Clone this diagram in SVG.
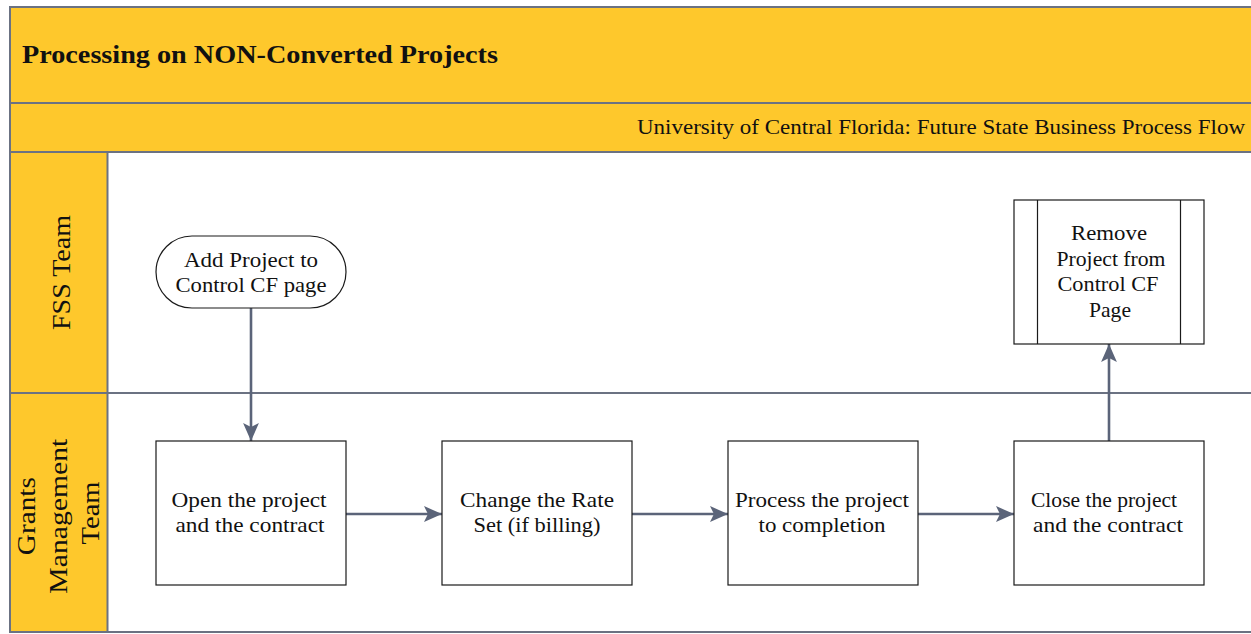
<svg xmlns="http://www.w3.org/2000/svg" width="1251" height="634" viewBox="0 0 1251 634">
  <style>
    .band { fill: #FEC82C; stroke: #6B7282; stroke-width: 2; }
    .lane { fill: #FFFFFF; stroke: #6B7282; stroke-width: 2; }
    .box { fill: #FFFFFF; stroke: #1A1A1A; stroke-width: 1.2; }
    .t { font-family: "Liberation Serif", "Times New Roman", serif; fill: #111111; }
    .title { font-size: 26px; font-weight: bold; }
    .sub { font-size: 21px; }
    .lab { font-size: 25px; text-anchor: middle; }
    .node { font-size: 21px; text-anchor: middle; }
    .conn { stroke: #5B6479; stroke-width: 2.6; fill: none; marker-end: url(#arrow); }
  </style>
  <defs>
    <marker id="arrow" viewBox="0 0 10 10" refX="10" refY="5" markerUnits="userSpaceOnUse" markerWidth="18" markerHeight="18" orient="auto">
      <path d="M0,0.6 L10,5 L0,9.4 L2.2,5 Z" fill="#5B6479"/>
    </marker>
  </defs>
  <rect width="1251" height="634" fill="#FFFFFF"/>

  <!-- header bands -->
  <g id="header">
    <rect class="band" x="10" y="7" width="1260" height="96"/>
    <rect class="band" x="10" y="103" width="1260" height="49"/>
    <text class="t title" x="22" y="63" textLength="476" lengthAdjust="spacingAndGlyphs">Processing on NON-Converted Projects</text>
    <text class="t sub" x="637" y="134" textLength="608" lengthAdjust="spacingAndGlyphs">University of Central Florida: Future State Business Process Flow</text>
  </g>

  <!-- swimlanes -->
  <g id="lane-fss">
    <rect class="lane" x="10" y="152" width="1260" height="241"/>
    <rect class="band" x="10" y="152" width="97.5" height="241"/>
    <text class="t lab" transform="translate(0,272.5) rotate(-90)" x="0" y="70" textLength="115" lengthAdjust="spacingAndGlyphs">FSS Team</text>
  </g>
  <g id="lane-grants">
    <rect class="lane" x="10" y="393" width="1260" height="239"/>
    <rect class="band" x="10" y="393" width="97.5" height="239"/>
    <text class="t lab" transform="translate(0,513) rotate(-90)">
      <tspan x="0" y="35" textLength="78" lengthAdjust="spacingAndGlyphs">Grants</tspan>
      <tspan x="0" y="67" textLength="155" lengthAdjust="spacingAndGlyphs">Management</tspan>
      <tspan x="0" y="99" textLength="63" lengthAdjust="spacingAndGlyphs">Team</tspan>
    </text>
  </g>

  <!-- connectors -->
  <g id="connectors">
    <line class="conn" x1="251" y1="308" x2="251" y2="441"/>
    <line class="conn" x1="346" y1="514" x2="442" y2="514"/>
    <line class="conn" x1="632" y1="514" x2="728" y2="514"/>
    <line class="conn" x1="918" y1="514" x2="1014" y2="514"/>
    <line class="conn" x1="1109" y1="441" x2="1109" y2="344"/>
  </g>

  <!-- nodes -->
  <g id="add-project">
    <rect class="box" x="156" y="236" width="190" height="72" rx="36" ry="36"/>
    <text class="t node" x="251" y="267" textLength="134" lengthAdjust="spacingAndGlyphs">Add Project to</text>
    <text class="t node" x="251" y="292" textLength="151" lengthAdjust="spacingAndGlyphs">Control CF page</text>
  </g>
  <g id="remove-project">
    <rect class="box" x="1014" y="200" width="190" height="144"/>
    <line class="box" x1="1037.5" y1="200" x2="1037.5" y2="344"/>
    <line class="box" x1="1180.5" y1="200" x2="1180.5" y2="344"/>
    <text class="t node" x="1109" y="240" textLength="76" lengthAdjust="spacingAndGlyphs">Remove</text>
    <text class="t node" x="1111" y="265.5" textLength="109" lengthAdjust="spacingAndGlyphs">Project from</text>
    <text class="t node" x="1108" y="291" textLength="101" lengthAdjust="spacingAndGlyphs">Control CF</text>
    <text class="t node" x="1110" y="316.5" textLength="42" lengthAdjust="spacingAndGlyphs">Page</text>
  </g>
  <g id="open-project">
    <rect class="box" x="156" y="441" width="190" height="144"/>
    <text class="t node" x="249" y="507" textLength="155" lengthAdjust="spacingAndGlyphs">Open the project</text>
    <text class="t node" x="250" y="532" textLength="149" lengthAdjust="spacingAndGlyphs">and the contract</text>
  </g>
  <g id="change-rate">
    <rect class="box" x="442" y="441" width="190" height="144"/>
    <text class="t node" x="537" y="507" textLength="154" lengthAdjust="spacingAndGlyphs">Change the Rate</text>
    <text class="t node" x="537" y="532" textLength="127" lengthAdjust="spacingAndGlyphs">Set (if billing)</text>
  </g>
  <g id="process-project">
    <rect class="box" x="728" y="441" width="190" height="144"/>
    <text class="t node" x="822" y="507" textLength="174" lengthAdjust="spacingAndGlyphs">Process the project</text>
    <text class="t node" x="822" y="532" textLength="127" lengthAdjust="spacingAndGlyphs">to completion</text>
  </g>
  <g id="close-project">
    <rect class="box" x="1014" y="441" width="190" height="144"/>
    <text class="t node" x="1104" y="507" textLength="146" lengthAdjust="spacingAndGlyphs">Close the project</text>
    <text class="t node" x="1108" y="532" textLength="150" lengthAdjust="spacingAndGlyphs">and the contract</text>
  </g>
</svg>
